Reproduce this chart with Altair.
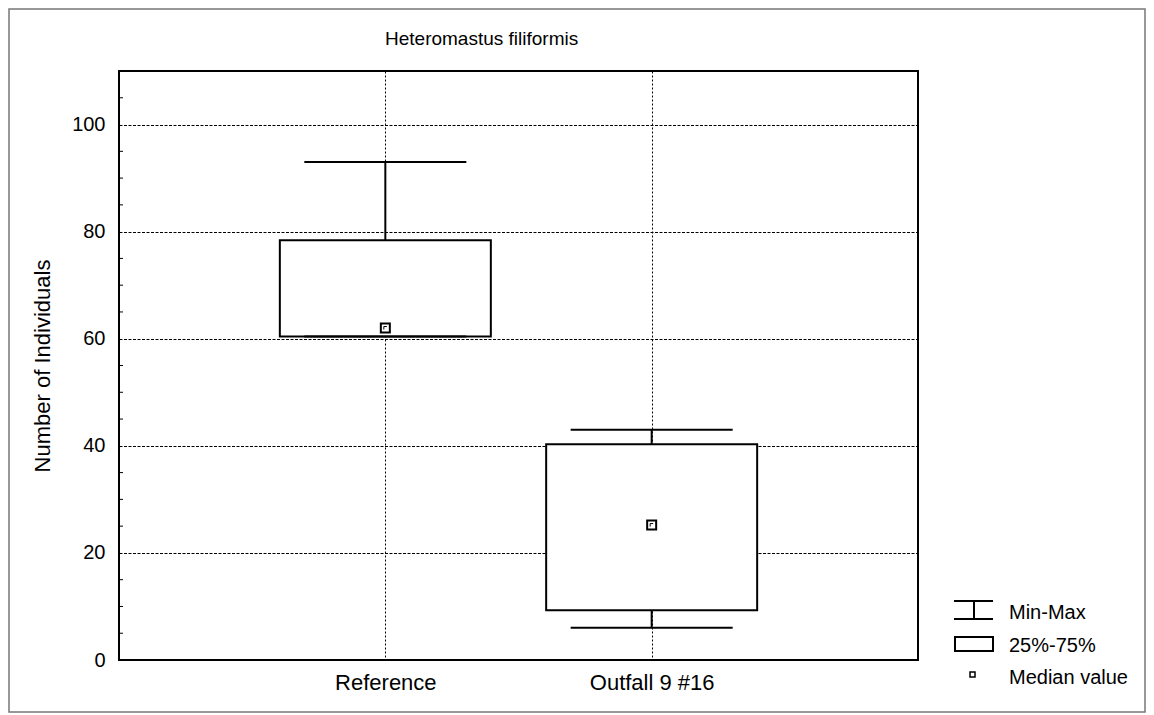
import altair as alt
import pandas as pd

categories = ["Reference", "Outfall 9 #16"]
mins = [60.4, 6.0]
q1s = [60.4, 9.3]
medians = [62.0, 25.2]
q3s = [78.4, 40.3]
maxs = [93.0, 43.0]

y_labels = [0, 20, 40, 60, 80, 100]
y_minor = [5, 10, 15, 25, 30, 35, 45, 50, 55, 65, 70, 75, 85, 90, 95, 105]

legend_labels = ["Min-Max", "25%-75%", "Median value"]

df = pd.DataFrame({"cat": categories, "min": mins, "q1": q1s, "med": medians, "q3": q3s, "max": maxs})

FONT = "Liberation Sans"
W, H = 799, 589
PL, PT, PR, PB = 111, 63, 228, 53

xenc = alt.X("cat:N", sort=categories, title=None,
             scale=alt.Scale(type="point", padding=1),
             axis=alt.Axis(labelFont=FONT, labelFontSize=22, labelColor="black",
                           labelAngle=0, labelPadding=12, ticks=False, domain=False,
                           grid=True, gridColor="black", gridDash=[2, 2], gridWidth=1, gridOpacity=1))
yscale = alt.Scale(domain=[0, 110], nice=False, zero=True)
yaxis = alt.Axis(values=y_labels, labelFont=FONT, labelFontSize=20, labelColor="black",
                 labelPadding=14, ticks=False, domain=False, title="Number of Individuals",
                 titleFont=FONT, titleFontSize=22, titleFontWeight="normal", titleColor="black",
                 titlePadding=17, grid=True, gridColor="black", gridDash=[3, 1.5], gridWidth=1, gridOpacity=1)

base = alt.Chart(df)

whisk_lo = base.mark_rule(color="black", strokeWidth=2).encode(
    x=xenc, y=alt.Y("min:Q", scale=yscale, axis=yaxis), y2="q1:Q")
whisk_hi = base.mark_rule(color="black", strokeWidth=2).encode(
    x=xenc, y=alt.Y("q3:Q", scale=yscale, axis=yaxis), y2="max:Q")
box = base.mark_bar(size=211, fill="white", stroke="black", strokeWidth=2).encode(
    x=xenc, y=alt.Y("q1:Q", scale=yscale, axis=yaxis), y2="q3:Q")
cap_lo = base.mark_tick(size=162, thickness=2, color="black", opacity=1).encode(
    x=xenc, y=alt.Y("min:Q", scale=yscale, axis=yaxis))
cap_hi = base.mark_tick(size=162, thickness=2, color="black", opacity=1).encode(
    x=xenc, y=alt.Y("max:Q", scale=yscale, axis=yaxis))
median = base.mark_point(shape="square", size=81, filled=False, stroke="black", strokeWidth=2,
                         fill="white", opacity=1).encode(
    x=xenc, y=alt.Y("med:Q", scale=yscale, axis=yaxis))
median_in = base.mark_point(shape="M-1,1L-1,-1L1,-1", size=9, filled=False, stroke="black",
                            strokeWidth=1, opacity=1).encode(
    x=xenc, y=alt.Y("med:Q", scale=yscale, axis=yaxis))

minor = alt.Chart(pd.DataFrame({"v": y_minor})).mark_tick(
    size=4, thickness=1, color="black", opacity=1).encode(
    x=alt.value(2), y=alt.Y("v:Q", scale=yscale, axis=yaxis))

one = pd.DataFrame({"a": [0]})

# decorations
title = alt.Chart(pd.DataFrame({"t": ["Heteromastus filiformis"]})).mark_text(
    font=FONT, fontSize=19, color="black", align="left", baseline="alphabetic").encode(
    text="t:N", x=alt.value(385 - 119), y=alt.value(45 - 71))

outer = alt.Chart(one).mark_rect(
    fill=None, stroke="#777777", strokeWidth=1.5, clip=False).encode(
    x=alt.value(-PL + 1), x2=alt.value(W + PR - 1), y=alt.value(-PT + 1), y2=alt.value(H + PB - 1))

frame = alt.Chart(one).mark_rect(fill=None, stroke="black", strokeWidth=2).encode(
    x=alt.value(0), x2=alt.value(W), y=alt.value(0), y2=alt.value(H))

lg = pd.DataFrame({"label": legend_labels, "yy": [613 - 71, 646 - 71, 678 - 71]})
leg_text = alt.Chart(lg).mark_text(font=FONT, fontSize=20, color="black", align="left",
                                   baseline="middle").encode(
    text="label:N", x=alt.value(1009 - 119), y=alt.Y("yy:Q", scale=None))
leg_cap1 = alt.Chart(one).mark_rule(color="black", strokeWidth=2).encode(
    x=alt.value(954 - 119), x2=alt.value(993 - 119), y=alt.value(601 - 71))
leg_cap2 = alt.Chart(one).mark_rule(color="black", strokeWidth=2).encode(
    x=alt.value(954 - 119), x2=alt.value(993 - 119), y=alt.value(619 - 71))
leg_stem = alt.Chart(one).mark_rule(color="black", strokeWidth=2).encode(
    x=alt.value(974 - 119), y=alt.value(601 - 71), y2=alt.value(619 - 71))
leg_box = alt.Chart(one).mark_rect(fill="white", stroke="black", strokeWidth=2).encode(
    x=alt.value(955 - 119), x2=alt.value(993 - 119), y=alt.value(637 - 71), y2=alt.value(651 - 71))
leg_med = alt.Chart(one).mark_rect(fill="white", stroke="black", strokeWidth=1.5).encode(
    x=alt.value(970 - 119), x2=alt.value(975 - 119), y=alt.value(672 - 71), y2=alt.value(677 - 71))

chart = alt.layer(
    outer, box, whisk_lo, whisk_hi, cap_lo, cap_hi, median, median_in, minor, frame, title,
    leg_text, leg_cap1, leg_cap2, leg_stem, leg_box, leg_med
).properties(
    width=W, height=H,
    autosize=alt.AutoSizeParams(type="none"),
    padding={"left": PL, "top": PT, "right": PR, "bottom": PB},
).configure_view(stroke=None).configure(background="white")

chart.save("out.html", embed_options={"renderer": "svg", "actions": False})
